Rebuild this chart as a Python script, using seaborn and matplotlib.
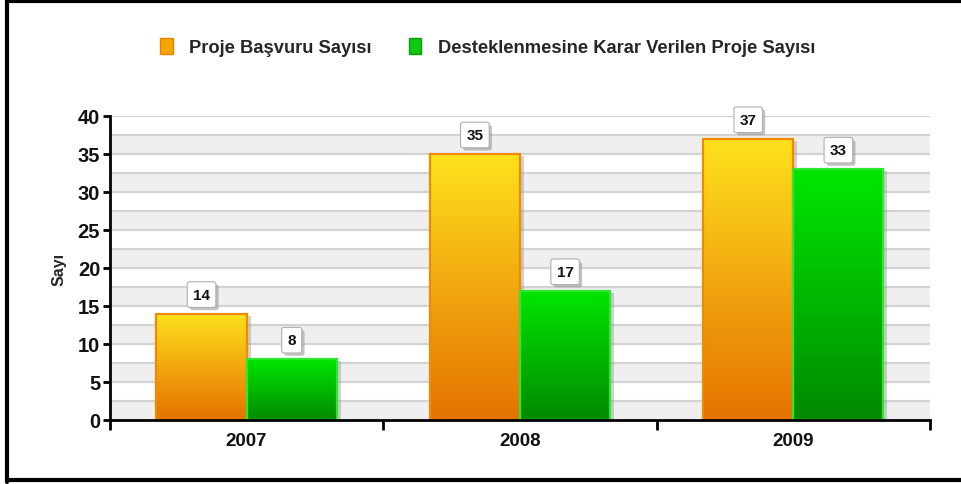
import numpy as np
import pandas as pd
import matplotlib
matplotlib.use("Agg")
import matplotlib.pyplot as plt
import seaborn as sns
from matplotlib.colors import LinearSegmentedColormap
from matplotlib.patches import Patch, Rectangle
from matplotlib.lines import Line2D
from matplotlib import transforms
import matplotlib.patheffects as pe

# data
years = ["2007", "2008", "2009"]
basvuru = [14, 35, 37]
desteklenen = [8, 17, 33]
series = ["Proje Başvuru Sayısı", "Desteklenmesine Karar Verilen Proje Sayısı"]

df = pd.DataFrame({
    "Yıl": years * 2,
    "Sayı": basvuru + desteklenen,
    "Seri": [series[0]] * 3 + [series[1]] * 3,
})

sns.set_theme(style="white")
plt.rcParams["font.family"] = ["Liberation Sans", "DejaVu Sans"]

fig = plt.figure(figsize=(9.62, 4.85), dpi=100)
ax = fig.add_axes([0.1143, 0.132, 0.8524, 0.6268])

# background bands + grid lines
for y0 in np.arange(0, 40, 5):
    ax.axhspan(y0, y0 + 2.5, color="#efefef", zorder=0, lw=0)
for y in np.arange(2.5, 40.1, 2.5):
    ax.axhline(y, color="#d3d3d3", lw=1.6, zorder=1)

sns.barplot(data=df, x="Yıl", y="Sayı", hue="Seri", width=0.66,
            palette=["#f0a000", "#00c000"], ax=ax, legend=False, zorder=3)

cmaps = [
    LinearSegmentedColormap.from_list("org", ["#e47200", "#f2a810", "#fde21c"]),
    LinearSegmentedColormap.from_list("grn", ["#008a00", "#00b800", "#00e600"]),
]
edges = ["#f08a00", "#2ee82e"]
grad = np.linspace(0, 1, 256).reshape(-1, 1)
shadow_tr = transforms.offset_copy(ax.transData, fig=fig, x=4, y=-2, units="dots")

for i, cont in enumerate(ax.containers):
    for bar in cont:
        x0, w, h = bar.get_x(), bar.get_width(), bar.get_height()
        ax.add_patch(Rectangle((x0, 0), w, h, transform=shadow_tr,
                               color="#9a9a9a", alpha=0.45, zorder=2, lw=0))
        bar.set_facecolor("none")
        bar.set_edgecolor(edges[i])
        bar.set_linewidth(1.6)
        bar.set_zorder(5)
        im = ax.imshow(grad, extent=[x0, x0 + w, 0, h], origin="lower",
                       aspect="auto", cmap=cmaps[i], zorder=4)
        im.set_clip_path(bar)
        t = ax.annotate(f"{int(h)}", (x0 + w / 2, h), xytext=(0, 19),
                        textcoords="offset pixels", ha="center", va="center",
                        fontsize=11, fontweight="bold", color="#111111",
                        zorder=6,
                        bbox=dict(boxstyle="round,pad=0.38,rounding_size=0.15",
                                  fc="white", ec="#b0b0b0", lw=0.8))
        t.get_bbox_patch().set_path_effects(
            [pe.SimplePatchShadow(offset=(2, -2), shadow_rgbFace="#888888", alpha=0.5),
             pe.Normal()])

ax.set_xlim(-0.5, 2.5)
ax.set_ylim(0, 40)
ax.set_yticks(np.arange(0, 41, 5))
ax.set_xticks([0, 1, 2])
ax.set_xticklabels(years)
ax.set_xticks([-0.5, 0.5, 1.5, 2.5], minor=True)
ax.tick_params(axis="x", which="major", length=0, labelsize=13.5, pad=9)
ax.tick_params(axis="x", which="minor", length=7, width=2, color="black",
               direction="out", bottom=True)
ax.tick_params(axis="y", length=5, width=2, color="black", direction="out",
               left=True, labelsize=14.5, pad=2)
for lab in ax.get_xticklabels() + ax.get_yticklabels():
    lab.set_fontweight("bold")
    lab.set_color("#111111")

ax.set_xlabel("")
ax.set_ylabel("Sayı", fontsize=11.5, fontweight="bold", labelpad=8)
for s in ["top", "right"]:
    ax.spines[s].set_visible(False)
for s in ["left", "bottom"]:
    ax.spines[s].set_color("black")
    ax.spines[s].set_linewidth(2)
    ax.spines[s].set_zorder(7)

handles = [Patch(facecolor="#f5a600", edgecolor="#e88000"),
           Patch(facecolor="#10c810", edgecolor="#0a9a0a")]
fig.legend(handles, series, loc="center", bbox_to_anchor=(0.507, 0.901), ncol=2,
           frameon=False, handlelength=0.7, handleheight=1.0, handletextpad=0.9,
           columnspacing=2.0, prop=dict(size=13.2, weight="bold"))

# frame around the picture
fig.add_artist(Line2D([0.0075, 0.0075], [0.005, 0.997], color="black", lw=3,
                      transform=fig.transFigure))
fig.add_artist(Line2D([0.0075, 1.0], [0.996, 0.996], color="black", lw=3,
                      transform=fig.transFigure))
fig.add_artist(Line2D([0.0075, 1.0], [0.008, 0.008], color="black", lw=3,
                      transform=fig.transFigure))

fig.savefig("out.png", dpi=100)
